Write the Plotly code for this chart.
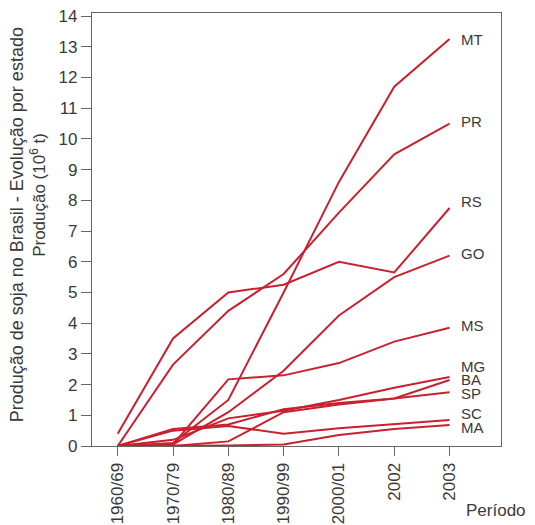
import plotly.graph_objects as go

periods = ["1960/69", "1970/79", "1980/89", "1990/99", "2000/01", "2002", "2003"]

states = ["MT", "PR", "RS", "GO", "MS", "MG", "BA", "SP", "SC", "MA"]
MT = [0.0, 0.1, 1.5, 5.0, 8.6, 11.7, 13.25]
PR = [0.0, 2.65, 4.4, 5.6, 7.6, 9.5, 10.5]
RS = [0.4, 3.5, 5.0, 5.25, 6.0, 5.65, 7.75]
GO = [0.0, 0.05, 1.1, 2.45, 4.25, 5.5, 6.2]
MS = [0.0, 0.05, 2.17, 2.3, 2.7, 3.4, 3.85]
MG = [0.0, 0.2, 0.9, 1.15, 1.5, 1.9, 2.25]
BA = [0.0, 0.0, 0.15, 1.1, 1.35, 1.55, 2.15]
SP = [0.0, 0.55, 0.7, 1.2, 1.4, 1.55, 1.75]
SC = [0.0, 0.5, 0.65, 0.4, 0.58, 0.72, 0.85]
MA = [0.0, 0.0, 0.02, 0.05, 0.36, 0.55, 0.68]
series = [MT, PR, RS, GO, MS, MG, BA, SP, SC, MA]

# vertical pixel nudges for the end labels (to avoid overlap)
label_shift = {"MT": 0, "PR": 2, "RS": 7, "GO": 2, "MS": 2, "MG": 10, "BA": 0, "SP": -1, "SC": 6, "MA": -2}

yticks = list(range(0, 15))

RED = "#c9202f"
TXT = "#3a3a3a"
FONT = "Liberation Sans, Arial, sans-serif"

fig = go.Figure()
last = len(periods) - 1
for name, vals in zip(states, series):
    fig.add_trace(go.Scatter(x=periods, y=vals, mode="lines", name=name,
                             line=dict(color=RED, width=2), showlegend=False,
                             hoverinfo="skip"))
    fig.add_annotation(x=last, y=vals[-1], text=name, showarrow=False,
                       xanchor="left", yanchor="middle", xshift=9,
                       yshift=label_shift[name],
                       font=dict(family=FONT, size=15, color=TXT))

fig.add_annotation(xref="paper", yref="paper", x=-0.183, y=0.51,
                   text="Produção de soja no Brasil - Evolução por estado",
                   textangle=-90, showarrow=False, xanchor="center", yanchor="middle",
                   font=dict(family=FONT, size=18, color=TXT))
fig.add_annotation(xref="paper", yref="paper", x=-0.132, y=0.58,
                   text="Produção (10<sup>6</sup> t)",
                   textangle=-90, showarrow=False, xanchor="center", yanchor="middle",
                   font=dict(family=FONT, size=17, color=TXT))
fig.add_annotation(xref="paper", yref="paper", x=0.91, y=-0.148,
                   text="Período", showarrow=False, xanchor="left", yanchor="middle",
                   font=dict(family=FONT, size=17, color=TXT))

fig.update_layout(
    width=527, height=517,
    margin=dict(l=84, r=34, t=5, b=79, autoexpand=False),
    paper_bgcolor="white", plot_bgcolor="white",
    font=dict(family=FONT, size=17, color=TXT),
)
fig.update_xaxes(type="category", categoryorder="array", categoryarray=periods,
                 range=[-0.465, 6.93], showgrid=False, zeroline=False, automargin=False,
                 showline=True, linecolor="#666", linewidth=1.2, mirror=True,
                 ticks="outside", ticklen=9, tickcolor="#666", tickwidth=1.2,
                 tickangle=-90, ticklabeloverflow="allow",
                 tickfont=dict(family=FONT, size=17, color=TXT))
fig.update_yaxes(range=[0, 14.1], tickvals=yticks, ticktext=[str(t) for t in yticks],
                 showgrid=False, zeroline=False, automargin=False,
                 showline=True, linecolor="#666", linewidth=1.2, mirror=True,
                 ticks="outside", ticklen=10, tickcolor="#666", tickwidth=1.2,
                 ticklabeloverflow="allow",
                 tickfont=dict(family=FONT, size=17, color=TXT))

fig.write_html("out.html")
